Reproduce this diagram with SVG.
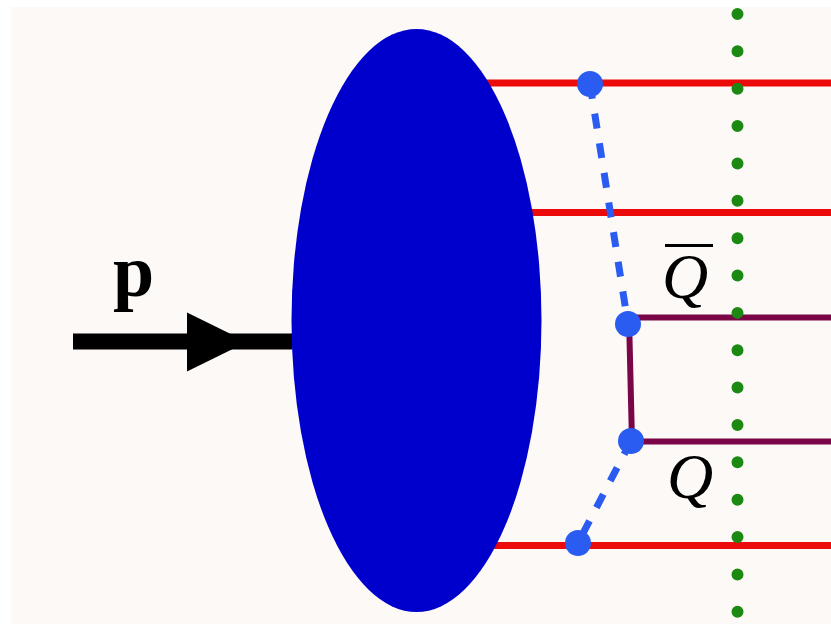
<svg xmlns="http://www.w3.org/2000/svg" width="831" height="624" viewBox="0 0 831 624">
  <defs>
    <style>
      .red { stroke: #ec0a0a; stroke-width: 7; fill: none; }
      .quark { stroke: #7a0648; stroke-width: 6; fill: none; }
      .dash { stroke: #2a5cf2; stroke-width: 7; stroke-dasharray: 15 15; fill: none; }
      .vtx { fill: #2a5cf2; }
      .cut { stroke: #1c8a12; stroke-width: 12; stroke-linecap: round; stroke-dasharray: 0 37.36; fill: none; }
      .lbl { font-family: "Liberation Serif", "Times New Roman", serif; fill: #000; }
    </style>
  </defs>
  <rect x="0" y="0" width="831" height="624" fill="#ffffff"/>
  <rect x="11" y="7" width="820" height="617" fill="#fdf9f6"/>

  <g id="connectors">
    <line class="red" x1="420" y1="83" x2="831" y2="83"/>
    <line class="red" x1="420" y1="212.5" x2="831" y2="212.5"/>
    <line class="red" x1="420" y1="545.5" x2="831" y2="545.5"/>
    <polyline class="quark" points="831,317.5 629,317.5 632,441.5 831,441.5"/>
  </g>

  <g id="proton">
    <ellipse cx="416.5" cy="320.5" rx="125" ry="291.5" fill="#0000cc"/>
  </g>

  <g id="gluon-lines">
    <line class="dash" x1="590" y1="84" x2="628" y2="324"/>
    <line class="dash" x1="631" y1="441" x2="578" y2="543"/>
  </g>

  <g id="vertices">
    <circle class="vtx" cx="590" cy="84" r="13"/>
    <circle class="vtx" cx="628" cy="324" r="13"/>
    <circle class="vtx" cx="631" cy="441" r="13"/>
    <circle class="vtx" cx="578" cy="543" r="13"/>
  </g>

  <g id="cut">
    <line class="cut" x1="737.5" y1="14" x2="737.5" y2="612"/>
  </g>

  <g id="momentum-arrow">
    <line x1="73" y1="341.5" x2="292" y2="341.5" stroke="#000" stroke-width="16"/>
    <polygon points="187,312.5 247,342 187,371.5" fill="#000"/>
    <text class="lbl" x="113" y="296" font-size="74" font-weight="bold">p</text>
  </g>

  <g id="label-Qbar">
    <line x1="665" y1="245.5" x2="713" y2="245.5" stroke="#000" stroke-width="3"/>
    <text class="lbl" x="662" y="298" font-size="64" font-style="italic">Q</text>
  </g>

  <g id="label-Q">
    <text class="lbl" x="667" y="498" font-size="64" font-style="italic">Q</text>
  </g>
</svg>
